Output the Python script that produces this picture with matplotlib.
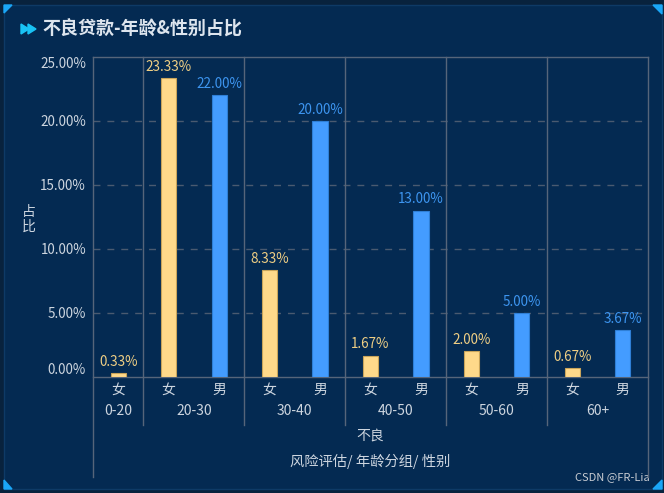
import numpy as np
import matplotlib
matplotlib.use('Agg')
import matplotlib.pyplot as plt
from matplotlib.patches import Rectangle, Polygon

plt.rcParams['font.family'] = ['Noto Sans CJK SC', 'DejaVu Sans']

# data
genders = ['女', '女', '男', '女', '男', '女', '男', '女', '男', '女', '男']
values = [0.33, 23.33, 22.00, 8.33, 20.00, 1.67, 13.00, 2.00, 5.00, 0.67, 3.67]
age_groups = ['0-20', '20-30', '30-40', '40-50', '50-60', '60+']
group_sizes = [1, 2, 2, 2, 2, 2]
yticks = [0, 5, 10, 15, 20, 25]

W, H = 664, 493
fig = plt.figure(figsize=(W / 100, H / 100), dpi=100)
fig.patch.set_facecolor('#08223d')

# background panel, pixel coords
bg = fig.add_axes([0, 0, 1, 1])
bg.set_xlim(0, W)
bg.set_ylim(H, 0)
bg.axis('off')
bg.add_patch(Rectangle((4, 5), 658, 484, facecolor='#042a52', edgecolor='#0e3a66', lw=1))
# soft light streaks
xx = np.linspace(0, 1, 400)
yy = np.linspace(0, 1, 300)
X, Y = np.meshgrid(xx, yy)
tex = 0.5 + 0.5 * np.sin(9 * X + 3 * np.sin(4 * Y)) * np.cos(5 * Y - 2 * X)
bg.imshow(tex, extent=(4, 662, 489, 5), cmap=matplotlib.colors.LinearSegmentedColormap.from_list(
    'tx', ['#032446', '#063563']), alpha=0.55, aspect='auto', zorder=0.5)
cyan = '#1aa6f7'
for pts in [[(4, 5), (12, 5), (4, 13)], [(662, 5), (653, 5), (662, 14)],
            [(4, 489), (12, 489), (4, 480)], [(662, 489), (653, 489), (662, 480)]]:
    bg.add_patch(Polygon(pts, closed=True, color=cyan, zorder=2))
# title icon
for x0 in (21, 28):
    bg.add_patch(Polygon([(x0, 24), (x0, 34), (x0 + 8, 29)], closed=True, color='#19c3f5', zorder=2))
bg.text(42, 29.5, '不良贷款-年龄&性别占比', color='#dde5ee', fontsize=13, fontweight='heavy',
        style='italic', va='center', ha='left')
txtc = '#cdd5df'
bg.text(29, 219, '占\n比', color=txtc, fontsize=10, ha='center', va='center', linespacing=1.05)
bg.text(370, 436, '不良', color=txtc, fontsize=10, ha='center', va='center')
bg.text(370, 461, '风险评估/ 年龄分组/ 性别', color=txtc, fontsize=10.3, ha='center', va='center')
bg.text(650, 477, 'CSDN @FR-Lia', color='#c8ccd2', fontsize=8, ha='right', va='center')

# main axes
left, right, top, bottom = 93, 648, 57, 377
ax = fig.add_axes([left / W, 1 - bottom / H, (right - left) / W, (bottom - top) / H])
ax.set_facecolor('none')
n = len(values)
x = np.arange(n)
ax.set_xlim(-0.5, n - 0.5)
ax.set_ylim(0, 25)

yellow, blue = '#ffd98a', '#449cff'
colors = [yellow if g == '女' else blue for g in genders]
edges = ['#c9a45a' if g == '女' else '#2f7fd6' for g in genders]
ax.bar(x, values, width=0.3, color=colors, edgecolor=edges, linewidth=0.8, zorder=3)
for xi, v, g in zip(x, values, genders):
    ax.annotate(f'{v:.2f}%', (xi, v), xytext=(0, 3), textcoords='offset points',
                ha='center', va='bottom', fontsize=9.7,
                color='#f0cf84' if g == '女' else '#3d95f0', zorder=4)

gridc = '#4a5a70'
for yv in yticks[1:-1]:
    ax.axhline(yv, color=gridc, lw=1, ls=(0, (5, 5)), zorder=1)

for s in ax.spines.values():
    s.set_visible(False)
linec = '#56657a'
ax.plot([0, 1], [1, 1], transform=ax.transAxes, color=linec, lw=1, clip_on=False)
ax.plot([0, 1], [0, 0], transform=ax.transAxes, color=linec, lw=1, clip_on=False)
ax.plot([0, 0], [1, -0.3125], transform=ax.transAxes, color=linec, lw=1, clip_on=False)
ax.plot([1, 1], [1, -0.3125], transform=ax.transAxes, color=linec, lw=1, clip_on=False)

# group separators and labels
pos = -0.5
for name, size in zip(age_groups, group_sizes):
    end = pos + size
    if end < n - 0.5:
        ax.plot([end, end], [1, -0.15], transform=ax.get_xaxis_transform(), color=linec,
                lw=1, clip_on=False)
    ax.text((pos + end) / 2, -0.107, name, transform=ax.get_xaxis_transform(),
            ha='center', va='center', color=txtc, fontsize=10)
    pos = end

ax.set_xticks(x)
ax.set_xticklabels(genders, color=txtc, fontsize=10)
ax.tick_params(axis='x', length=0, pad=4)
ax.set_yticks(yticks)
ax.set_yticklabels([f'{t:.2f}%' for t in yticks], color=txtc, fontsize=9.7)
ax.tick_params(axis='y', length=0, pad=5)
labs = ax.get_yticklabels()
labs[0].set_va('bottom')
labs[-1].set_va('top')

fig.savefig('out.png', dpi=100, facecolor=fig.get_facecolor())
